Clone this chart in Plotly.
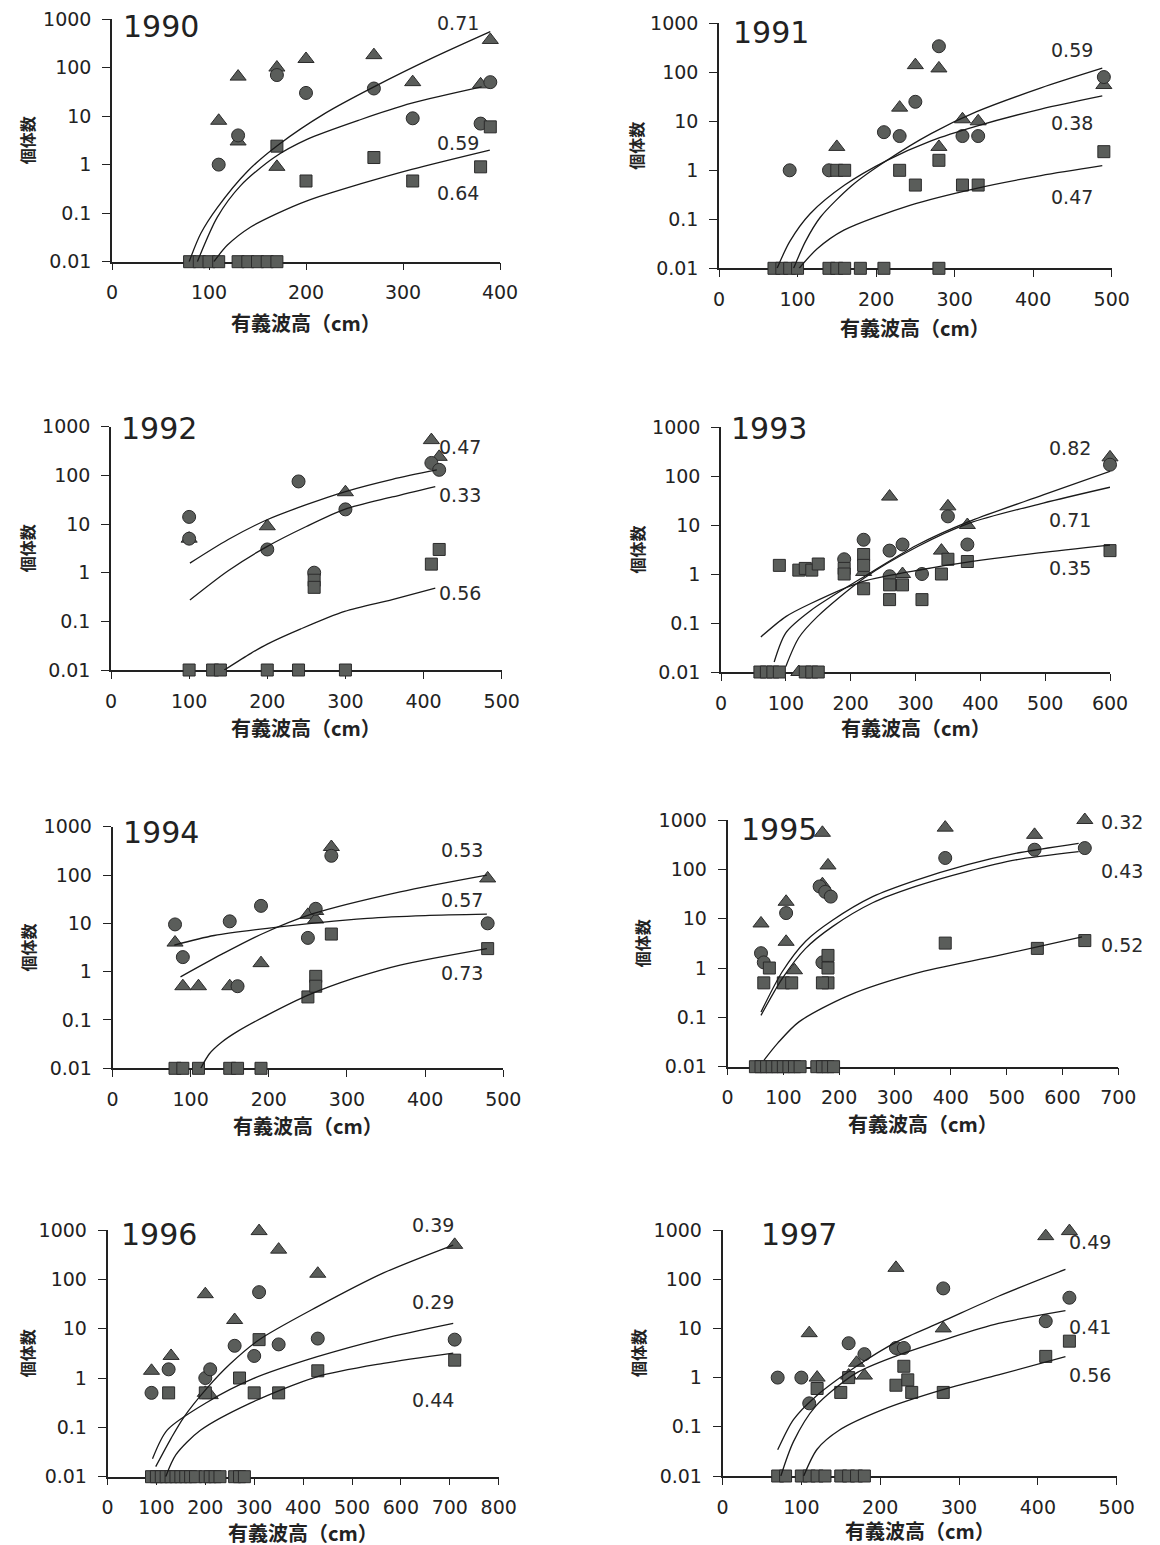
import plotly.graph_objects as go

W, H = 1160, 1545

# ------------------------------------------------------------------ data
YEARS = [1990, 1991, 1992, 1993, 1994, 1995, 1996, 1997]
Y_TICK_VALS = [0.01, 0.1, 1, 10, 100, 1000]
Y_TICK_TEXT = ["0.01", "0.1", "1", "10", "100", "1000"]
X_MAX = [400, 500, 500, 600, 500, 700, 800, 500]

# 1990
TRI_X_1990 = [110, 130, 130, 170, 170, 200, 270, 310, 380, 390]
TRI_Y_1990 = [8, 65, 3, 100, 0.9, 150, 180, 50, 45, 370]
CIR_X_1990 = [110, 130, 170, 200, 270, 310, 380, 390]
CIR_Y_1990 = [1, 4, 70, 30, 37, 9, 7, 50]
SQ_X_1990 = [170, 200, 270, 310, 380, 390]
SQ_Y_1990 = [2.4, 0.46, 1.4, 0.46, 0.9, 6]
ZERO_X_1990 = [80, 90, 100, 110, 130, 140, 150, 160, 170]
FIT_A_X_1990 = [79.5, 91.5, 108.6, 140, 172, 220, 270, 331, 390]
FIT_A_Y_1990 = [0.01, 0.038, 0.13, 0.74, 2.6, 11.5, 40, 160, 550]
FIT_B_X_1990 = [88, 108.6, 132.6, 166.8, 201, 255.9, 309, 381]
FIT_B_Y_1990 = [0.01, 0.083, 0.37, 1.39, 3.3, 8.4, 18.4, 40]
FIT_C_X_1990 = [105, 119, 143, 170, 201, 256, 309, 389.5]
FIT_C_Y_1990 = [0.01, 0.022, 0.052, 0.098, 0.18, 0.40, 0.8, 2.0]
R_TEXT_1990 = ["0.71", "0.59", "0.64"]
R_X_1990 = [357, 357, 357]
R_LOGY_1990 = [2.92, 0.45, -0.59]

# 1991
TRI_X_1991 = [150, 250, 280, 230, 310, 330, 280, 490]
TRI_Y_1991 = [3, 140, 120, 19, 11, 10, 3, 55]
CIR_X_1991 = [90, 140, 210, 230, 250, 280, 310, 330, 490]
CIR_Y_1991 = [1, 1, 6, 5, 25, 340, 5, 5, 80]
SQ_X_1991 = [150, 160, 230, 250, 280, 310, 330, 490]
SQ_Y_1991 = [1, 1, 1, 0.5, 1.6, 0.5, 0.5, 2.4]
ZERO_X_1991 = [70, 80, 90, 100, 140, 150, 160, 180, 210, 280]
FIT_A_X_1991 = [95, 110, 129, 170, 214, 270, 328, 410, 488]
FIT_A_Y_1991 = [0.01, 0.035, 0.11, 0.5, 1.6, 5.6, 15.7, 48, 121]
FIT_B_X_1991 = [74, 90, 116, 160, 214, 270, 328, 410, 488]
FIT_B_Y_1991 = [0.01, 0.035, 0.13, 0.5, 1.6, 4.0, 8.0, 17.8, 33]
FIT_C_X_1991 = [102, 125, 159, 244, 328, 410, 488]
FIT_C_Y_1991 = [0.01, 0.025, 0.06, 0.195, 0.43, 0.78, 1.24]
R_TEXT_1991 = ["0.59", "0.38", "0.47"]
R_X_1991 = [449, 449, 449]
R_LOGY_1991 = [2.455, 0.971, -0.539]

# 1992
TRI_X_1992 = [100, 200, 300, 410, 420]
TRI_Y_1992 = [5, 9, 45, 530, 240]
CIR_X_1992 = [100, 100, 200, 240, 260, 300, 410, 420]
CIR_Y_1992 = [14, 5, 3, 75, 1.0, 20, 180, 130]
SQ_X_1992 = [260, 260, 410, 420]
SQ_Y_1992 = [0.7, 0.5, 1.5, 3]
ZERO_X_1992 = [100, 130, 140, 200, 240, 300]
FIT_A_X_1992 = [101, 150, 199, 250, 299, 360, 417]
FIT_A_Y_1992 = [1.57, 4.8, 12.1, 25, 46, 83, 129]
FIT_B_X_1992 = [101, 150, 199, 250, 299, 360, 415]
FIT_B_Y_1992 = [0.275, 1.1, 3.4, 8.9, 20, 36, 59]
FIT_C_X_1992 = [145, 179, 200, 243, 299, 360, 415]
FIT_C_Y_1992 = [0.01, 0.022, 0.034, 0.07, 0.16, 0.28, 0.48]
R_TEXT_1992 = ["0.47", "0.33", "0.56"]
R_X_1992 = [447, 447, 447]
R_LOGY_1992 = [2.59, 1.6, -0.42]

# 1993
TRI_X_1993 = [260, 350, 380, 340, 220, 280, 600, 120]
TRI_Y_1993 = [38, 24, 10, 3, 1.1, 1.0, 240, 0.01]
CIR_X_1993 = [220, 260, 280, 350, 380, 190, 260, 310, 600]
CIR_Y_1993 = [5, 3, 4, 15, 4, 2, 0.9, 1, 170]
SQ_X_1993 = [90, 120, 130, 140, 150, 190, 190, 220, 220, 220, 260, 260, 280, 310, 340, 350, 380, 600]
SQ_Y_1993 = [1.5, 1.2, 1.3, 1.2, 1.6, 1.3, 1.0, 2.5, 1.5, 0.5, 0.3, 0.6, 0.6, 0.3, 1, 2, 1.8, 3]
ZERO_X_1993 = [60, 70, 80, 90, 130, 140, 150]
FIT_A_X_1993 = [82, 100, 138.5, 220.5, 302.6, 382, 497, 600]
FIT_A_Y_1993 = [0.016, 0.063, 0.18, 0.88, 3.9, 11.7, 41, 124]
FIT_B_X_1993 = [100, 120, 148.7, 220.5, 302.6, 382, 497, 600]
FIT_B_Y_1993 = [0.013, 0.05, 0.135, 0.82, 3.6, 10.8, 28, 59]
FIT_C_X_1993 = [61.5, 100, 138.5, 218, 313, 385, 490, 600]
FIT_C_Y_1993 = [0.052, 0.135, 0.25, 0.7, 1.25, 1.78, 2.7, 3.9]
R_TEXT_1993 = ["0.82", "0.71", "0.35"]
R_X_1993 = [538, 538, 538]
R_LOGY_1993 = [2.565, 1.1, 0.116]

# 1994
TRI_X_1994 = [80, 90, 110, 150, 190, 260, 250, 260, 480, 280]
TRI_Y_1994 = [4, 0.5, 0.5, 0.5, 1.5, 18, 15, 12, 85, 380]
CIR_X_1994 = [80, 90, 150, 160, 190, 250, 260, 280, 480]
CIR_Y_1994 = [9.5, 2, 11, 0.5, 23, 5, 20, 250, 10]
SQ_X_1994 = [250, 260, 260, 280, 480]
SQ_Y_1994 = [0.3, 0.8, 0.5, 6, 3]
ZERO_X_1994 = [80, 90, 110, 150, 160, 190]
FIT_A_X_1994 = [87, 140, 189, 257.5, 368, 479]
FIT_A_Y_1994 = [0.78, 2.3, 5.8, 16, 45, 100]
FIT_B_X_1994 = [79, 130, 198, 326, 400, 479]
FIT_B_Y_1994 = [3.55, 5.6, 7.9, 12.7, 14.5, 15.5]
FIT_C_X_1994 = [113, 124, 140, 160, 198, 251, 310, 368, 479]
FIT_C_Y_1994 = [0.01, 0.02, 0.035, 0.058, 0.126, 0.33, 0.74, 1.37, 3.0]
R_TEXT_1994 = ["0.53", "0.57", "0.73"]
R_X_1994 = [447, 447, 447]
R_LOGY_1994 = [2.52, 1.48, -0.035]

# 1995
TRI_X_1995 = [170, 180, 170, 105, 105, 60, 120, 390, 550, 640]
TRI_Y_1995 = [550, 120, 50, 22, 3.4, 8, 0.9, 700, 500, 1000]
CIR_X_1995 = [105, 60, 65, 165, 175, 185, 390, 550, 640, 170]
CIR_Y_1995 = [13, 2, 1.3, 45, 35, 28, 170, 250, 270, 1.3]
SQ_X_1995 = [75, 65, 100, 115, 180, 180, 180, 170, 390, 555, 640]
SQ_Y_1995 = [1.0, 0.5, 0.5, 0.5, 1.8, 1.0, 0.5, 0.5, 3.2, 2.5, 3.6]
ZERO_X_1995 = [50, 60, 70, 80, 90, 100, 110, 120, 130, 160, 170, 180, 190]
FIT_A_X_1995 = [60, 98, 140, 188, 260, 337, 430, 516, 629]
FIT_A_Y_1995 = [0.128, 0.84, 3.5, 9.3, 28, 60, 125, 211, 337]
FIT_B_X_1995 = [60, 98, 140, 188, 260, 337, 430, 516, 629]
FIT_B_Y_1995 = [0.11, 0.61, 2.5, 6.9, 21, 45, 91, 155, 228]
FIT_C_X_1995 = [65.5, 90, 128, 217.5, 337, 486, 635]
FIT_C_Y_1995 = [0.0136, 0.03, 0.081, 0.28, 0.78, 1.8, 4.3]
R_TEXT_1995 = ["0.32", "0.43", "0.52"]
R_X_1995 = [707, 707, 707]
R_LOGY_1995 = [2.96, 1.97, 0.46]

# 1996
TRI_X_1996 = [90, 130, 200, 200, 210, 260, 310, 350, 430, 710]
TRI_Y_1996 = [1.4, 2.8, 50, 0.5, 0.45, 15, 950, 400, 130, 500]
CIR_X_1996 = [90, 125, 200, 210, 260, 300, 310, 350, 430, 710]
CIR_Y_1996 = [0.5, 1.5, 1.0, 1.5, 4.5, 2.8, 55, 4.8, 6.3, 6]
SQ_X_1996 = [125, 200, 270, 300, 310, 350, 430, 710]
SQ_Y_1996 = [0.5, 0.5, 1.0, 0.5, 6, 0.5, 1.4, 2.3]
ZERO_X_1996 = [90, 100, 110, 120, 130, 140, 150, 160, 170, 180, 200, 210, 220, 230, 260, 270, 280]
FIT_A_X_1996 = [98.6, 130, 156, 202.6, 250, 309.4, 428.5, 564.5, 707]
FIT_A_Y_1996 = [0.016, 0.06, 0.16, 0.61, 1.9, 5.9, 27.6, 135, 496]
FIT_B_X_1996 = [92, 122, 203, 299, 429, 564, 707]
FIT_B_Y_1996 = [0.023, 0.088, 0.32, 0.98, 2.7, 6.3, 12.8]
FIT_C_X_1996 = [119, 140, 190, 292, 428, 564, 707]
FIT_C_Y_1996 = [0.01, 0.028, 0.087, 0.31, 1.06, 1.98, 3.2]
R_TEXT_1996 = ["0.39", "0.29", "0.44"]
R_X_1996 = [666, 666, 666]
R_LOGY_1996 = [3.1, 1.546, -0.45]

# 1997
TRI_X_1997 = [110, 120, 170, 160, 180, 220, 280, 410, 440]
TRI_Y_1997 = [8, 1.0, 2, 1.1, 1.1, 170, 10, 750, 950]
CIR_X_1997 = [70, 100, 110, 160, 180, 220, 230, 280, 410, 440]
CIR_Y_1997 = [1.0, 1.0, 0.3, 5, 3, 4, 4, 65, 14, 42]
SQ_X_1997 = [120, 150, 160, 220, 230, 235, 240, 280, 410, 440]
SQ_Y_1997 = [0.6, 0.5, 1.0, 0.7, 1.7, 0.9, 0.5, 0.5, 2.7, 5.5]
ZERO_X_1997 = [70, 80, 100, 110, 120, 130, 150, 160, 170, 180]
FIT_A_X_1997 = [70, 90, 118, 169, 221.5, 278.5, 350, 435]
FIT_A_Y_1997 = [0.034, 0.14, 0.41, 1.66, 5.4, 13.7, 45, 158]
FIT_B_X_1997 = [74, 90, 118, 169, 221.5, 287, 350, 435]
FIT_B_Y_1997 = [0.01, 0.05, 0.26, 1.22, 2.8, 6.3, 12.6, 22.9]
FIT_C_X_1997 = [103, 120, 148, 202.5, 278.5, 350, 435]
FIT_C_Y_1997 = [0.01, 0.035, 0.085, 0.22, 0.56, 1.13, 2.66]
R_TEXT_1997 = ["0.49", "0.41", "0.56"]
R_X_1997 = [466, 466, 466]
R_LOGY_1997 = [2.76, 1.03, 0.053]

ZERO_VALUE = 0.01

G = globals()
DATA = {}
for yr in YEARS:
    DATA[yr] = {k: G[f"{k}_{yr}"] for k in [
        "TRI_X", "TRI_Y", "CIR_X", "CIR_Y", "SQ_X", "SQ_Y", "ZERO_X",
        "FIT_A_X", "FIT_A_Y", "FIT_B_X", "FIT_B_Y", "FIT_C_X", "FIT_C_Y",
        "R_TEXT", "R_X", "R_LOGY"]}

# ------------------------------------------------------------------ layout (pixels)
# (left, right, top, bottom) of each plot area in page pixels
PANEL_PX = [
    (112, 500, 19, 261.7),
    (719, 1111.7, 23.3, 268.3),
    (111, 501.7, 426.7, 670),
    (721, 1110, 427, 672),
    (112.5, 503.3, 826.7, 1068.3),
    (727.5, 1118.3, 820, 1066.7),
    (107.5, 498.7, 1230, 1476.7),
    (722.5, 1116.7, 1230, 1476),
]
YEAR_POS = [(121, 27), (731, 32), (119, 428), (729, 428), (121, 832), (739, 829), (119, 1234), (759, 1234)]
YTITLE_X = [27, 636, 27, 636, 27, 642, 27, 638]
XTITLE_Y = [322, 327, 727, 727, 1125, 1123, 1532, 1530]
PAGE_OFFSET = 8  # default body margin of the html page

TXT = "#222222"
FILL = "#5a5d5a"
EDGE = "#2b2b2b"
TICK_FONT = dict(family="DejaVu Sans", size=19, color=TXT)
CJK = "Noto Sans CJK JP"


def px2x(p):
    return (p - PAGE_OFFSET) / W


def px2y(p):
    return 1 - (p - PAGE_OFFSET) / H


fig = go.Figure()
annotations = []
layout_axes = {}

for i, yr in enumerate(YEARS):
    n = i + 1
    d = DATA[yr]
    suf = "" if n == 1 else str(n)
    xa, ya = f"x{suf}", f"y{suf}"
    l, r, t, b = PANEL_PX[i]

    mk = dict(color=FILL, line=dict(color=EDGE, width=1))
    fig.add_trace(go.Scatter(x=d["TRI_X"], y=d["TRI_Y"], mode="markers", xaxis=xa, yaxis=ya,
                             marker=dict(symbol="triangle-up", size=14, **mk),
                             cliponaxis=False, showlegend=False))
    fig.add_trace(go.Scatter(x=d["CIR_X"], y=d["CIR_Y"], mode="markers", xaxis=xa, yaxis=ya,
                             marker=dict(symbol="circle", size=13, **mk),
                             cliponaxis=False, showlegend=False))
    fig.add_trace(go.Scatter(x=d["SQ_X"], y=d["SQ_Y"], mode="markers", xaxis=xa, yaxis=ya,
                             marker=dict(symbol="square", size=12, **mk),
                             cliponaxis=False, showlegend=False))
    fig.add_trace(go.Scatter(x=d["ZERO_X"], y=[ZERO_VALUE] * len(d["ZERO_X"]), mode="markers",
                             xaxis=xa, yaxis=ya,
                             marker=dict(symbol="square", size=12, **mk),
                             cliponaxis=False, showlegend=False))
    for key in ["FIT_A", "FIT_B", "FIT_C"]:
        fig.add_trace(go.Scatter(x=d[key + "_X"], y=d[key + "_Y"], mode="lines", xaxis=xa, yaxis=ya,
                                 line=dict(color="#1a1a1a", width=1.3, shape="spline", smoothing=0.8),
                                 cliponaxis=False, showlegend=False))

    xmax = X_MAX[i]
    layout_axes[f"xaxis{suf}"] = dict(
        domain=[px2x(l), px2x(r)], range=[0, xmax], anchor=ya, automargin=False,
        tickmode="array", tickvals=list(range(0, xmax + 1, 100)),
        showline=True, linecolor=TXT, linewidth=1.5, mirror=False,
        ticks="outside", ticklen=7, tickwidth=1.3, tickcolor=TXT,
        ticklabelstandoff=6, ticklabeloverflow="allow",
        tickfont=TICK_FONT, showgrid=False, zeroline=False, layer="below traces")
    layout_axes[f"yaxis{suf}"] = dict(
        domain=[px2y(b), px2y(t)], type="log", range=[-2, 3], anchor=xa, automargin=False,
        tickmode="array", tickvals=Y_TICK_VALS, ticktext=Y_TICK_TEXT,
        showline=True, linecolor=TXT, linewidth=1.5,
        ticks="outside", ticklen=8, tickwidth=1.3, tickcolor=TXT,
        ticklabelstandoff=7, ticklabeloverflow="allow",
        tickfont=TICK_FONT, showgrid=False, zeroline=False, layer="below traces")

    # year label
    yx, yy = YEAR_POS[i]
    annotations.append(dict(x=px2x(yx), y=px2y(yy), xref="paper", yref="paper",
                            text=str(yr), showarrow=False, xanchor="left", yanchor="middle",
                            font=dict(family="DejaVu Sans", size=30, color=TXT)))
    # r labels (placed in the axis-domain frame so labels beyond the range still show)
    for txt, rx, ry in zip(d["R_TEXT"], d["R_X"], d["R_LOGY"]):
        annotations.append(dict(x=rx / xmax, y=(ry + 2) / 5, xref=f"{xa} domain", yref=f"{ya} domain",
                                text=txt, showarrow=False, xanchor="center", yanchor="middle",
                                font=dict(family="DejaVu Sans", size=19, color="#2a2a2a")))
    # axis titles
    annotations.append(dict(x=px2x(YTITLE_X[i]), y=px2y((t + b) / 2), xref="paper", yref="paper",
                            text="<b>個体数</b>", textangle=-90, showarrow=False,
                            xanchor="center", yanchor="middle",
                            font=dict(family=CJK, size=16, color=TXT)))
    annotations.append(dict(x=px2x((l + r) / 2), y=px2y(XTITLE_Y[i]), xref="paper", yref="paper",
                            text="<b>有義波高（cm）</b>", showarrow=False,
                            xanchor="center", yanchor="middle",
                            font=dict(family=CJK, size=20, color=TXT)))

fig.update_layout(
    width=W, height=H,
    margin=dict(l=0, r=0, t=0, b=0, autoexpand=False),
    paper_bgcolor="white", plot_bgcolor="white",
    showlegend=False,
    annotations=annotations,
    **layout_axes,
)

fig.write_html("out.html")
